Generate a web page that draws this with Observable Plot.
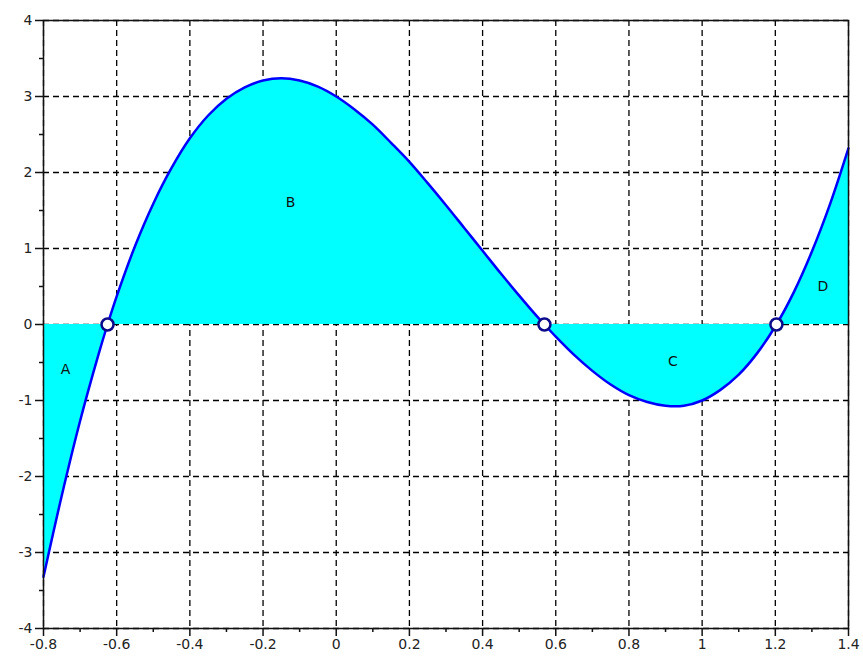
<!DOCTYPE html>
<html>
<head>
<meta charset="utf-8">
<script src="https://cdn.jsdelivr.net/npm/d3@7"></script>
<script src="https://cdn.jsdelivr.net/npm/@observablehq/plot@0.6"></script>
<style>
  html, body { margin: 0; padding: 0; background: #fff; }
  #chart svg { display: block; }
</style>
</head>
<body>
<div id="chart"></div>
<script>
// Curve samples
const xs = [-0.80,-0.75,-0.70,-0.65,-0.625,-0.60,-0.55,-0.50,-0.45,-0.40,-0.35,-0.30,-0.25,-0.20,-0.15,-0.10,-0.05,0.00,0.05,0.10,0.15,0.20,0.25,0.30,0.35,0.40,0.45,0.50,0.55,0.569,0.60,0.65,0.70,0.75,0.80,0.85,0.90,0.95,1.00,1.05,1.10,1.15,1.203,1.25,1.30,1.35,1.40];
const ys = [-3.32,-2.25,-1.27,-0.40,0.00,0.37,1.03,1.59,2.06,2.45,2.75,2.97,3.12,3.21,3.24,3.21,3.13,3.00,2.83,2.63,2.39,2.14,1.86,1.57,1.27,0.97,0.67,0.38,0.10,0.00,-0.16,-0.40,-0.61,-0.79,-0.93,-1.02,-1.07,-1.07,-1.00,-0.86,-0.66,-0.38,0.00,0.42,0.96,1.59,2.32];

// Roots (marked with circles)
const rootX = [-0.625, 0.569, 1.203];
const rootY = [0, 0, 0];

// Region labels
const labelText = ["A", "B", "C", "D"];
const labelX = [-0.74, -0.125, 0.92, 1.33];
const labelY = [-0.59, 1.6, -0.49, 0.5];

// Axis ticks
const xTicks = [-0.8,-0.6,-0.4,-0.2,0,0.2,0.4,0.6,0.8,1,1.2,1.4];
const xTickLabels = ["-0.8","-0.6","-0.4","-0.2","0","0.2","0.4","0.6","0.8","1","1.2","1.4"];
const xMinor = [-0.7,-0.5,-0.3,-0.1,0.1,0.3,0.5,0.7,0.9,1.1,1.3];
const yTicks = [-4,-3,-2,-1,0,1,2,3,4];
const yTickLabels = ["-4","-3","-2","-1","0","1","2","3","4"];
const yMinor = [-3.5,-2.5,-1.5,-0.5,0.5,1.5,2.5,3.5];

const curve = xs.map((x, i) => ({x, y: ys[i]}));
const roots = rootX.map((x, i) => ({x, y: rootY[i]}));
const labels = labelText.map((t, i) => ({t, x: labelX[i], y: labelY[i]}));

const chart = Plot.plot({
  width: 863,
  height: 662,
  marginLeft: 43,
  marginRight: 15,
  marginTop: 20,
  marginBottom: 34,
  style: {fontFamily: "DejaVu Sans, sans-serif", fontSize: "13px", color: "#222", background: "#fff"},
  x: {domain: [-0.8, 1.4], label: null},
  y: {domain: [-4, 4], label: null},
  marks: [
    Plot.gridX(xTicks, {stroke: "#000", strokeOpacity: 1, strokeDasharray: "6,4", strokeWidth: 1.3}),
    Plot.gridY(yTicks, {stroke: "#000", strokeOpacity: 1, strokeDasharray: "6,4", strokeWidth: 1.3}),
    Plot.areaY(curve, {x: "x", y1: 0, y2: "y", fill: "#00ffff", fillOpacity: 1, curve: "catmull-rom"}),
    Plot.line(curve, {x: "x", y: "y", stroke: "#0000ff", strokeWidth: 2.5, curve: "catmull-rom"}),
    Plot.dot(roots, {x: "x", y: "y", r: 6, fill: "#fff", stroke: "#0a0a8a", strokeWidth: 2.5}),
    Plot.text(labels, {x: "x", y: "y", text: "t", fontSize: 14, fill: "#111"}),
    Plot.frame({stroke: "#111", strokeWidth: 1.5}),
    Plot.axisX(xTicks, {tickSize: 8, tickPadding: 3, tickFormat: (d, i) => xTickLabels[i], stroke: "#111", strokeWidth: 1.5, fontSize: 14, fill: "#222", label: null}),
    Plot.axisX(xMinor, {tickSize: 4, text: null, stroke: "#111", strokeWidth: 1.5, label: null}),
    Plot.axisY(yTicks, {tickSize: 8, tickPadding: 3, tickFormat: (d, i) => yTickLabels[i], stroke: "#111", strokeWidth: 1.5, fontSize: 14, fill: "#222", label: null}),
    Plot.axisY(yMinor, {tickSize: 4, text: null, stroke: "#111", strokeWidth: 1.5, label: null})
  ]
});
document.getElementById("chart").appendChild(chart);
</script>
</body>
</html>
